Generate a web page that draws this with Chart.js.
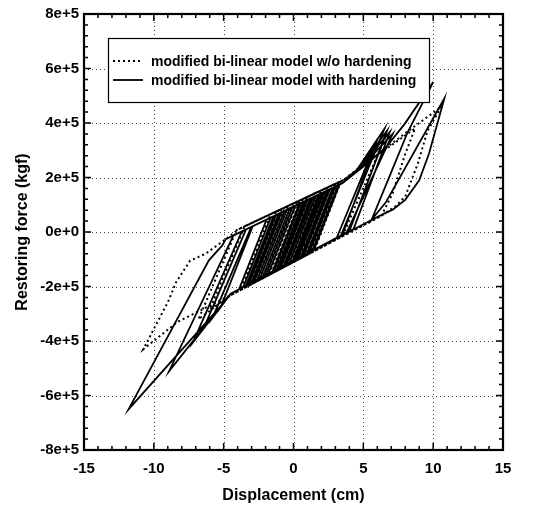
<!DOCTYPE html>
<html><head><meta charset="utf-8">
<script src="https://cdn.jsdelivr.net/npm/chart.js@4.4.1/dist/chart.umd.min.js"></script>
<style>html,body{margin:0;padding:0;background:#fff;}canvas{display:block;}</style>
</head><body>
<canvas id="c" width="538" height="510"></canvas>
<script>
// ---- data (x: displacement in cm, y: restoring force in kgf) ----
const xTickValues = [-15, -10, -5, 0, 5, 10, 15];
const yTickValues = [-8e5, -6e5, -4e5, -2e5, 0, 2e5, 4e5, 6e5, 8e5];
const seriesLabels = ['modified bi-linear model w/o hardening', 'modified bi-linear model with hardening'];
const xAxisTitle = 'Displacement (cm)';
const yAxisTitle = 'Restoring force (kgf)';

const solidPath = [
  [0,0],[0.88,1.15e5],[1.2,1.224e5],[-0.69,-1.236e5],[-1.0,-1.32e5],[0.90,1.15e5],[1.8,1.371e5],
  [-0.08,-1.072e5],[-1.5,-1.455e5],[0.41,1.03e5],[1.0,1.175e5],[-0.90,-1.293e5],[-2.2,-1.644e5],
  [-0.27,0.864e5],[2.4,1.518e5],[0.54,-0.904e5],[-1.2,-1.374e5],[0.70,1.10e5],[1.6,1.322e5],
  [-0.28,-1.126e5],[-2.8,-1.806e5],[-0.86,0.719e5],[3.0,1.665e5],[1.15,-0.739e5],[-2.0,-1.59e5],
  [-0.08,0.91e5],[2.2,1.469e5],[0.33,-0.961e5],[-3.3,-1.941e5],[-1.35,0.60e5],[3.3,1.739e5],
  [1.46,-0.656e5],[-2.6,-1.752e5],[-0.66,0.768e5],[2.8,1.616e5],[0.95,-0.795e5],[-3.6,-2.022e5],
  [-1.64,0.528e5],[3.5,1.788e5],
  [4.6,2.3e5],[5.8,3.1e5],[3.5,-0.105e5],[-4.5,-2.265e5],[-5.2,-2.75e5],[-2.92,0.215e5],
  [3.5,1.788e5],[4.6,2.3e5],[6.7,3.72e5],[4.0,0.03e5],[-4.5,-2.265e5],[-7.2,-4.05e5],[-3.7,0.024e5],
  [3.5,1.788e5],[4.6,2.3e5],[6.9,3.67e5],[4.3,0.11e5],[-4.5,-2.265e5],[-8.9,-5.1e5],[-4.3,-0.124e5],
  [3.5,1.788e5],[5.0,2.4e5],[6.6,3.1e5],[7.95,3.96e5],[10.0,5.5e5],[8.17,3.66e5],[7.0,2.2e5],
  [5.6,0.46e5],[6.6,1.08e5],[10.8,4.9e5],[9.7,2.87e5],[9.0,1.9e5],[8.0,1.18e5],[7.1,0.82e5],
  [6.1,0.58e5],[-4.5,-2.265e5],[-5.0,-2.6e5],[-11.8,-6.5e5],[-6.06,-1.04e5],[-5.1,-0.49e5],
  [-4.85,-0.26e5],[2.5,1.54e5],[0.6,-0.89e5],
  [-0.6,-1.212e5],[1.29,1.246e5],[1.4,1.273e5],[-0.49,-1.182e5],[-1.8,-1.536e5],[0.12,0.959e5],
  [2.0,1.42e5],[0.13,-1.016e5],[-2.4,-1.698e5],[-0.47,0.816e5],[2.6,1.567e5],[0.74,-0.85e5],
  [-3.0,-1.86e5],[-1.05,0.672e5],[0.8,1.126e5],[-1.1,-1.348e5],[-1.4,-1.428e5],[0.51,1.055e5],
  [1.9,1.396e5],[0.02,-1.044e5],[-2.9,-1.833e5],[-0.95,0.696e5],[2.9,1.64e5],[1.05,-0.767e5],
  [-3.4,-1.968e5],[-1.44,0.576e5],[3.2,1.714e5],[1.36,-0.684e5],[-3.9,-2.103e5],[-1.93,0.457e5],
  [2.1,1.444e5],[0.23,-0.988e5],[-0.3,-1.131e5],[1.58,1.317e5],[0.5,-0.09e5],
  [-0.3,-1.13e5],[-3.2,-1.914e5],[-1.25,0.624e5],[3.5,1.788e5],[4.5,2.25e5],[6.0,3.4e5],
  [3.1,-0.21e5],[-4.5,-2.265e5],[-5.8,-3.15e5],[-3.02,0.19e5],[3.5,1.788e5],[4.5,2.25e5],
  [6.5,3.78e5],[3.4,-0.13e5],[-4.5,-2.265e5],[-6.4,-3.5e5],[-3.4,0.097e5],[3.5,1.788e5],
  [4.7,2.3e5],[7.1,3.6e5],[3.8,-0.02e5],[1.0,-0.78e5]
];

const dottedPath = [
  [0,0],[0.97,1.28e5],[1.5,1.41e5],[-0.51,-1.24e5],[-1.3,-1.45e5],[0.75,1.23e5],[2.0,1.53e5],
  [0.01,-1.10e5],[-1.8,-1.59e5],[0.27,1.11e5],[1.4,1.39e5],[-0.62,-1.27e5],[-2.5,-1.78e5],
  [-0.39,0.96e5],[2.7,1.70e5],[0.74,-0.90e5],[-2.0,-1.64e5],[0.08,1.07e5],[3.1,1.79e5],
  [1.16,-0.79e5],[-3.0,-1.91e5],[-0.87,0.84e5],[2.3,1.60e5],[0.32,-1.01e5],[-3.4,-2.02e5],
  [-1.25,0.75e5],[3.4,1.87e5],[1.48,-0.70e5],[-3.8,-2.13e5],[-1.63,0.66e5],[3.6,1.91e5],
  [5.0,2.45e5],[8.7,3.8e5],[8.0,2.87e5],[7.1,1.42e5],[6.3,0.6e5],[-4.5,-2.32e5],[-6.0,-2.85e5],
  [-3.5,0.21e5],[3.6,1.91e5],[5.0,2.45e5],[8.2,3.7e5],[10.6,4.6e5],[9.6,3.72e5],[8.9,2.51e5],
  [8.0,1.3e5],[7.3,0.94e5],[6.2,0.57e5],[-4.5,-2.32e5],[-8.3,-3.3e5],[-10.75,-4.3e5],
  [-9.93,-3.49e5],[-8.99,-2.57e5],[-8.4,-1.84e5],[-7.4,-1.05e5],[-6.3,-0.8e5],[-4.9,-0.28e5],
  [-3.93,0.1e5],[2.0,1.53e5],[0.2,-1.05e5],
  [-0.9,-1.343e5],[1.15,1.327e5],[2.5,1.65e5],[0.49,-0.969e5],[-2.7,-1.829e5],[-0.6,0.907e5],
  [1.8,1.482e5],[-0.24,-1.163e5],[-3.2,-1.964e5],[-1.08,0.79e5],[3.0,1.77e5],[1.0,-0.83e5],
  [-2.2,-1.694e5],[-0.11,1.024e5],[1.0,1.29e5],[-1.06,-1.386e5],[-1.6,-1.532e5],[0.47,1.164e5],
  [3.3,1.842e5],[1.31,-0.746e5],
  [3.3,1.842e5],[3.6,1.91e5],[4.8,2.4e5],[6.6,3.5e5],[3.5,-0.155e5],[-4.5,-2.32e5],
  [-6.8,-3.2e5],[-4.07,0.073e5],[2.4,1.626e5],[0.6,-0.94e5]
];

// ---- rendering ----
const FONT = '"Liberation Sans", Arial, Helvetica, sans-serif';
const xGridValues = xTickValues.slice(1, -1);
const yGridValues = yTickValues.slice(1, -1);
const xMinor = []; for (let v = -15; v <= 15; v += 1) xMinor.push(v);
const yMinor = []; for (let i = -20; i <= 20; i++) yMinor.push(i * 4e4);

const toPts = p => p.map(([x, y]) => ({x, y}));

const decor = {
  id: 'decor',
  beforeDatasetsDraw(chart) {
    const {ctx, chartArea: a, scales: {x, y}} = chart;
    ctx.save();
    ctx.strokeStyle = '#444';
    ctx.lineWidth = 1;
    ctx.setLineDash([1, 3]);
    xGridValues.forEach(v => {
      const p = Math.round(x.getPixelForValue(v)) + 0.5;
      ctx.beginPath(); ctx.moveTo(p, a.top); ctx.lineTo(p, a.bottom); ctx.stroke();
    });
    yGridValues.forEach(v => {
      const p = Math.round(y.getPixelForValue(v)) + 0.5;
      ctx.beginPath(); ctx.moveTo(a.left, p); ctx.lineTo(a.right, p); ctx.stroke();
    });
    ctx.restore();
  },
  afterDraw(chart) {
    const {ctx, chartArea: a, scales: {x, y}} = chart;
    ctx.save();
    ctx.setLineDash([]);
    ctx.strokeStyle = '#000';
    ctx.lineWidth = 1.5;
    xMinor.forEach(v => {
      const p = x.getPixelForValue(v);
      const len = (v % 5 === 0) ? 7 : 4;
      ctx.beginPath();
      ctx.moveTo(p, a.bottom); ctx.lineTo(p, a.bottom - len);
      ctx.moveTo(p, a.top); ctx.lineTo(p, a.top + len);
      ctx.stroke();
    });
    yMinor.forEach(v => {
      const p = y.getPixelForValue(v);
      const len = (Math.round(v / 4e4) % 5 === 0) ? 7 : 4;
      ctx.beginPath();
      ctx.moveTo(a.left, p); ctx.lineTo(a.left + len, p);
      ctx.moveTo(a.right, p); ctx.lineTo(a.right - len, p);
      ctx.stroke();
    });
    ctx.lineWidth = 2.2;
    ctx.strokeRect(a.left, a.top, a.right - a.left, a.bottom - a.top);
    // legend
    const bx = 108, by = 38, bw = 321, bh = 64;
    ctx.fillStyle = '#fff';
    ctx.fillRect(bx, by, bw, bh);
    ctx.lineWidth = 1.2;
    ctx.strokeRect(bx + 0.5, by + 0.5, bw, bh);
    const ds = chart.data.datasets;
    const rows = [61, 80];
    ds.forEach((d, i) => {
      ctx.save();
      ctx.strokeStyle = '#000';
      ctx.lineWidth = d.borderWidth;
      ctx.setLineDash(d.borderDash || []);
      ctx.beginPath(); ctx.moveTo(113, rows[i]); ctx.lineTo(143, rows[i]); ctx.stroke();
      ctx.restore();
      ctx.fillStyle = '#000';
      ctx.font = 'bold 14px ' + FONT;
      ctx.textBaseline = 'middle';
      ctx.textAlign = 'left';
      ctx.fillText(d.label, 151, rows[i] + 1);
    });
    ctx.restore();
  }
};

new Chart(document.getElementById('c'), {
  type: 'scatter',
  data: {
    datasets: [
      { label: seriesLabels[0], data: toPts(dottedPath), showLine: true, borderColor: '#000',
        borderWidth: 2, borderDash: [2, 3], pointRadius: 0, tension: 0, fill: false },
      { label: seriesLabels[1], data: toPts(solidPath), showLine: true, borderColor: '#000',
        borderWidth: 1.8, pointRadius: 0, tension: 0, fill: false }
    ]
  },
  options: {
    responsive: false, animation: false, devicePixelRatio: 1,
    layout: { padding: { left: 0, right: 35, top: 14, bottom: 0 } },
    plugins: { legend: { display: false }, tooltip: { enabled: false } },
    scales: {
      x: {
        type: 'linear', min: -15, max: 15,
        afterBuildTicks: s => { s.ticks = xTickValues.map(v => ({ value: v })); },
        grid: { display: false, drawTicks: false },
        border: { display: false },
        ticks: { color: '#000', padding: 10, font: { family: FONT, size: 15, weight: 'bold' } },
        title: { display: true, text: xAxisTitle, color: '#000', padding: { top: 0, bottom: 5 },
                 font: { family: FONT, size: 16, weight: 'bold' } },
        afterFit: s => { s.height = 60; }
      },
      y: {
        type: 'linear', min: -8e5, max: 8e5,
        afterBuildTicks: s => { s.ticks = yTickValues.map(v => ({ value: v })); },
        grid: { display: false, drawTicks: false },
        border: { display: false },
        ticks: { color: '#000', padding: 5, font: { family: FONT, size: 15, weight: 'bold' },
                 callback: v => Number(v).toExponential(0) },
        title: { display: true, text: yAxisTitle, color: '#000', padding: { top: 13, bottom: 0 },
                 font: { family: FONT, size: 16, weight: 'bold' } },
        afterFit: s => { s.width = 84; }
      }
    }
  },
  plugins: [decor]
});
</script>
</body></html>
